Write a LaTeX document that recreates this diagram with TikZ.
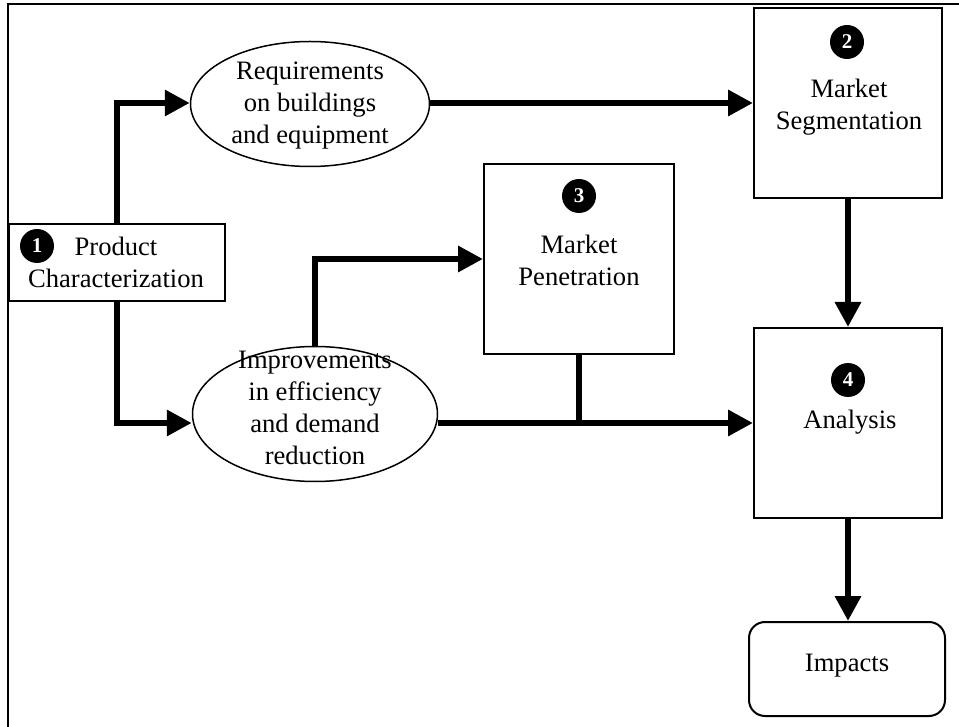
\documentclass[tikz,border=0pt]{standalone}
\usepackage{fontspec}
\setmainfont{Liberation Serif}
\usetikzlibrary{arrows.meta,shapes.geometric}
\begin{document}
\begin{tikzpicture}[x=1pt,y=-1pt,
  every node/.style={font=\fontsize{26.6}{32}\selectfont},
  box/.style={draw, line width=2pt, inner sep=0pt, rectangle},
  oval/.style={draw, ellipse, line width=1.5pt, inner sep=0pt},
  txt/.style={align=center, inner sep=0pt},
  badge/.style={circle, fill=black, text=white, minimum size=34pt, inner sep=0pt, font=\fontsize{21}{21}\selectfont\bfseries},
  conn/.style={line width=6.5pt, -{Triangle[length=25pt,width=25pt]}, line join=miter},
  plain/.style={line width=6.5pt}]
\useasboundingbox (0,0) rectangle (959,727);
% frame
\draw[line width=2pt] (7.5,727) -- (7.5,4) -- (959,4);
% boxes
\node[box, minimum width=216pt, minimum height=77pt] (prod) at (117,262.5) {};
\node[box, minimum width=188pt, minimum height=190pt] (seg) at (848,103) {};
\node[box, minimum width=190pt, minimum height=190pt] (pen) at (579,259) {};
\node[box, minimum width=188pt, minimum height=190pt] (ana) at (848,423) {};
\node[box, rounded corners=16pt, minimum width=196pt, minimum height=94pt] (imp) at (847,669) {};
\node[oval, minimum width=239pt, minimum height=125pt] (req) at (310,104) {};
\node[oval, minimum width=245pt, minimum height=135pt] (eff) at (315,414) {};
% texts
\node[txt] (prodtxt) at (116,262) {Product\\Characterization};
\node[txt] (segtxt) at (849,107) {Market\\Segmentation};
\node[txt] (pentxt) at (579,260) {Market\\Penetration};
\node[txt] (anatxt) at (850,422) {Analysis};
\node[txt] (imptxt) at (847,666) {Impacts};
\node[txt] (reqtxt) at (310,106) {Requirements\\on buildings\\and equipment};
\node[txt] (efftxt) at (315,408) {Improvements\\in efficiency\\and demand\\reduction};
% badges
\node[badge] (b1) at (37,246) {1};
\node[badge] (b2) at (847,42) {2};
\node[badge] (b3) at (579,196) {3};
\node[badge] (b4) at (848,380) {4};
% connectors
\draw[conn] (prod.north) |- (req.west |- seg.west);
\draw[conn] (prod.south) |- (eff.west |- ana.west);
\draw[conn] (req.east |- seg.west) -- (seg.west);
\draw[conn] (eff.north) |- (pen.west);
\draw[conn] (eff.east |- ana.west) -- (ana.west);
\draw[plain] (pen.south) -- (pen.south |- ana.west);
\draw[conn] (seg.south) -- (ana.north);
\draw[conn] (ana.south) -- (ana.south |- imp.north);
\end{tikzpicture}
\end{document}
